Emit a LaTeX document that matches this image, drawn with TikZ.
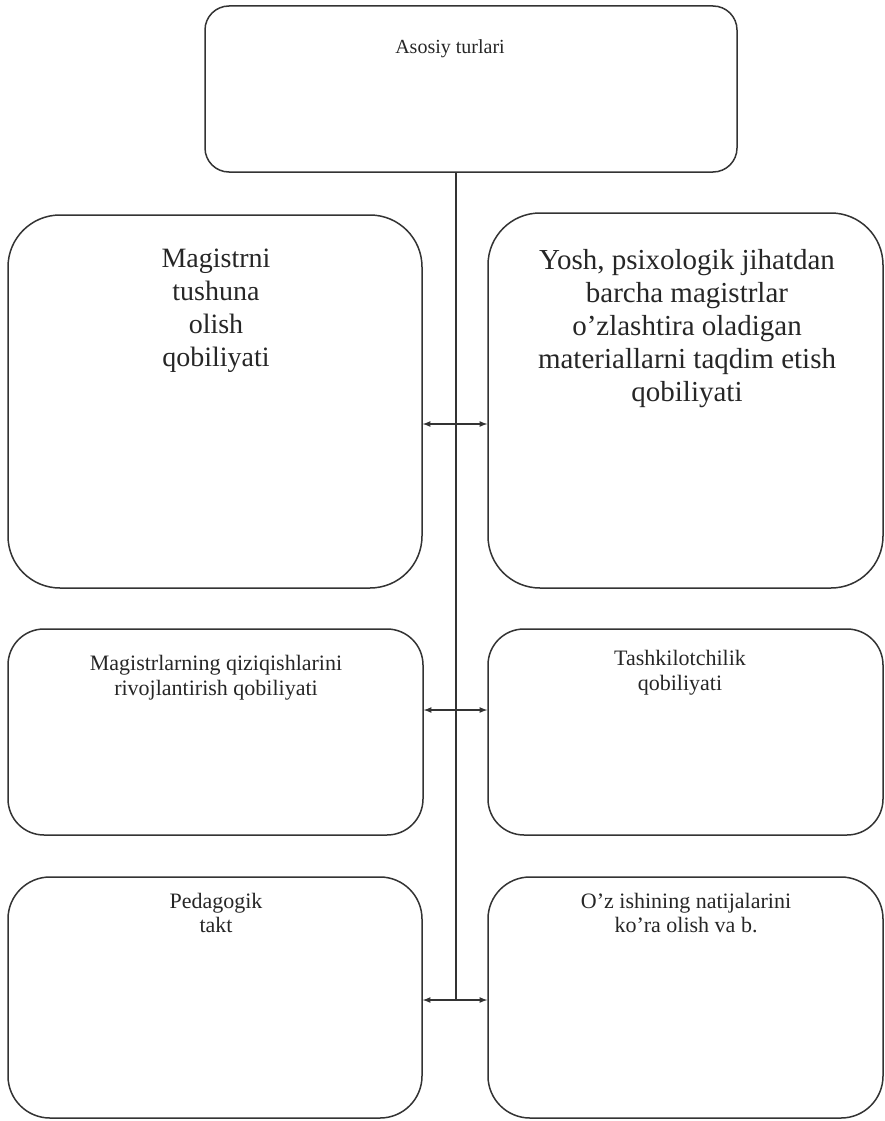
\documentclass[tikz,border=0pt]{standalone}
\usepackage{fontspec}
\setmainfont{Liberation Serif}
\usepackage{xcolor}
\usetikzlibrary{arrows}

\tikzset{
  box/.style = {draw = black!80, line width = 1.5pt, rounded corners = #1, inner sep = 0pt},
  box/.default = 40pt,
  txt/.style = {anchor = north, align = center, inner sep = 0pt, text = black!85},
  link/.style = {draw = black!80, line width = 1.6pt}
}

\begin{document}
\begin{tikzpicture}[x = 1pt, y = -1pt]
  \useasboundingbox (0, 0) rectangle (885, 1121);

  \node[box = 24pt, minimum width = 532pt, minimum height = 166pt] (top) at (471, 89) {};
  \node[txt, font = \fontsize{20}{24}\selectfont] (ttop) at (450, 39) {Asosiy turlari};

  \node[box = 52pt, minimum width = 414pt, minimum height = 373pt] (l1) at (215, 401.5) {};
  \node[box = 52pt, minimum width = 395pt, minimum height = 375pt] (r1) at (685.5, 400.5) {};
  \node[txt, font = \fontsize{28}{33}\selectfont] (tl1) at (216, 249)
  {Magistrni\\ tushuna\\ olish\\ qobiliyati};
  \node[txt, font = \fontsize{29}{33}\selectfont] (tr1) at (687, 249)
  {Yosh, psixologik jihatdan\\ barcha magistrlar\\ o’zlashtira oladigan\\
    materiallarni taqdim etish\\ qobiliyati};

  \node[box = 36pt, minimum width = 415pt, minimum height = 206pt] (l2) at (215.5, 732) {};
  \node[box = 36pt, minimum width = 395pt, minimum height = 206pt] (r2) at (685.5, 732) {};
  \node[txt, font = \fontsize{22}{25}\selectfont] (tl2) at (216, 655)
  {Magistrlarning qiziqishlarini\\ rivojlantirish qobiliyati};
  \node[txt, font = \fontsize{22}{25}\selectfont] (tr2) at (680, 650)
  {Tashkilotchilik\\ qobiliyati};

  \node[box = 42pt, minimum width = 414pt, minimum height = 241pt] (l3) at (215, 997.5) {};
  \node[box = 42pt, minimum width = 395pt, minimum height = 241pt] (r3) at (685.5, 997.5) {};
  \node[txt, font = \fontsize{22}{24}\selectfont] (tl3) at (216, 893)
  {Pedagogik\\ takt};
  \node[txt, font = \fontsize{22}{24}\selectfont] (tr3) at (686, 893)
  {O’z ishining natijalarini\\ ko’ra olish va b.};

  % trunk and branches
  \coordinate (j1) at (456, 424);
  \coordinate (j2) at (456, 710);
  \coordinate (j3) at (456, 1000);
  \draw[link] (top.south -| j3) -- (j3);
  \draw[link, -latex] (j1) -- (j1 -| l1.east);
  \draw[link, -latex] (j1) -- (j1 -| r1.west);
  \draw[link, -latex] (j2) -- (j2 -| l2.east);
  \draw[link, -latex] (j2) -- (j2 -| r2.west);
  \draw[link, -latex] (j3) -- (j3 -| l3.east);
  \draw[link, -latex] (j3) -- (j3 -| r3.west);
\end{tikzpicture}
\end{document}
